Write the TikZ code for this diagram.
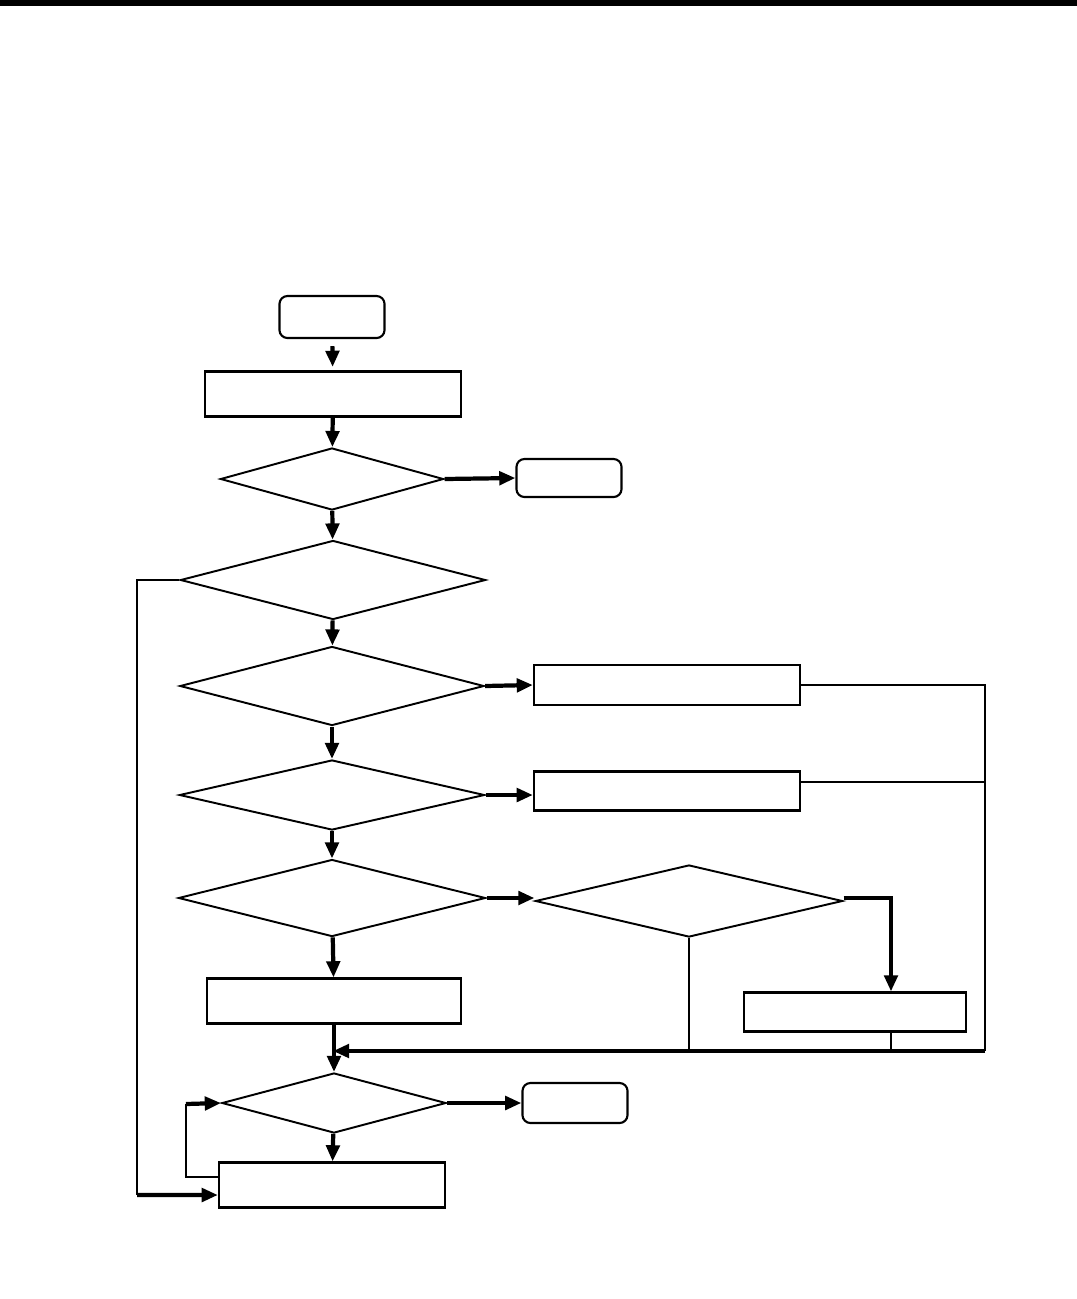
\documentclass[tikz,border=0pt]{standalone}
\usepackage{tikz}
\usetikzlibrary{shapes.geometric,arrows.meta}
\begin{document}
\begin{tikzpicture}[x=0.01cm,y=-0.01cm,
	box/.style={draw,line width=0.6pt,inner sep=0pt},
	term/.style={box,rounded corners=0.08cm},
	cond/.style={draw,line width=0.55pt,diamond,inner sep=0pt},
	arr/.style={line width=1.2pt,-{Triangle[length=4.6pt,width=3.8pt]}},
	link/.style={line width=0.55pt}]
	\useasboundingbox (0,0) rectangle (1077,1299);
	\fill (0,0) rectangle (1077,6);
	% main column
	\node[term,minimum width=1.05cm,minimum height=0.42cm] (start) at (332,317) {};
	\node[box,minimum width=2.55cm,minimum height=0.45cm] (init) at (333,394) {};
	\node[cond,minimum width=2.23cm,minimum height=0.62cm] (chk1) at (332,479) {};
	\node[term,minimum width=1.05cm,minimum height=0.38cm] (stop1) at (569,478) {};
	\node[cond,minimum width=3.05cm,minimum height=0.79cm] (chk2) at (333,580) {};
	\node[cond,minimum width=3.04cm,minimum height=0.79cm] (chk3) at (332,686) {};
	\node[box,minimum width=2.66cm,minimum height=0.40cm] (act1) at (667,685) {};
	\node[cond,minimum width=3.05cm,minimum height=0.70cm] (chk4) at (332,795) {};
	\node[box,minimum width=2.66cm,minimum height=0.39cm] (act2) at (667,791) {};
	\node[cond,minimum width=3.07cm,minimum height=0.77cm] (chk5) at (332,898) {};
	\node[cond,minimum width=3.07cm,minimum height=0.72cm] (chk6) at (689,901) {};
	\node[box,minimum width=2.54cm,minimum height=0.45cm] (act3) at (334,1001) {};
	\node[box,minimum width=2.22cm,minimum height=0.39cm] (act4) at (855,1012) {};
	\node[cond,minimum width=2.24cm,minimum height=0.60cm] (chk7) at (334,1103) {};
	\node[term,minimum width=1.05cm,minimum height=0.40cm] (stop2) at (575,1103) {};
	\node[box,minimum width=2.26cm,minimum height=0.45cm] (next) at (332,1185) {};
	% joints
	\coordinate (rt) at (985,685);
	\coordinate (rb) at (985,1051);
	\coordinate (mg) at (333,1051);
	\coordinate (c6) at (891,898);
	\coordinate (lp) at (186,1104);
	\coordinate (ll) at (137,580);
	% connectors
	\draw[arr,shorten <=2pt,shorten >=1pt] (start) -- (init);
	\draw[arr] (init) -- (chk1);
	\draw[arr] (chk1.east) -- (stop1.west);
	\draw[arr] (chk1) -- (chk2);
	\draw[arr] (chk2) -- (chk3);
	\draw[arr] (chk3.east) -- (act1.west);
	\draw[arr] (chk3) -- (chk4);
	\draw[arr] (chk4.east) -- (act2.west |- chk4.east);
	\draw[arr] (chk4) -- (chk5);
	\draw[arr] (chk5.east) -- (chk6.west |- chk5.east);
	\draw[arr] (chk5) -- (act3);
	\draw[arr] (chk6.east |- c6) -- (c6) -- (c6 |- act4.north);
	\draw[line width=0.8pt] (act1.east) -- (rt) -- (rb);
	\draw[link] ([yshift=0.09cm]act2.east) -- ([yshift=0.09cm]act2.east -| rt);
	\draw[link] (chk6.south) -- (chk6.south |- rb);
	\draw[link] (c6 |- act4.south) -- (c6 |- rb);
	\draw[arr] (rb) -- (mg);
	\draw[arr] (act3) -- (chk7);
	\draw[arr] (chk7.east) -- (stop2.west);
	\draw[arr] (chk7) -- (next);
	\draw[link] ([yshift=0.08cm]next.west) -- ([yshift=0.08cm]next.west -| lp) -- (lp);
	\draw[arr] (lp) -- (chk7.west);
	\draw[link] (chk2.west) -- (ll) -- (ll |- 0,1195);
	\draw[arr] (ll |- 0,1195) -- ([yshift=-0.1cm]next.west);
\end{tikzpicture}
\end{document}
